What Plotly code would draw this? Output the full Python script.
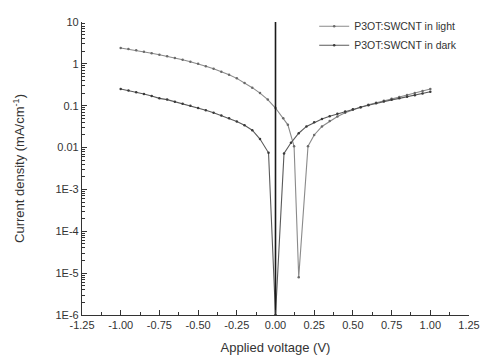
import plotly.graph_objects as go

# ---- data ----
light_x = [-1.00, -0.95, -0.90, -0.85, -0.80, -0.75, -0.70, -0.65, -0.60, -0.55,
           -0.50, -0.45, -0.40, -0.35, -0.30, -0.25, -0.20, -0.15, -0.10, -0.05,
           0.00, 0.05, 0.08, 0.12, 0.15, 0.21, 0.25, 0.30, 0.35, 0.40, 0.45,
           0.50, 0.55, 0.60, 0.65, 0.70, 0.75, 0.80, 0.85, 0.90, 0.95, 1.00]
light_y = [2.4, 2.25, 2.1, 1.95, 1.8, 1.65, 1.52, 1.38, 1.25, 1.12,
           1.0, 0.88, 0.76, 0.65, 0.55, 0.45, 0.35, 0.27, 0.20, 0.14,
           0.088, 0.05, 0.035, 0.0107, 8e-6, 0.0108, 0.02, 0.032, 0.043, 0.055, 0.068,
           0.08, 0.092, 0.105, 0.118, 0.132, 0.146, 0.162, 0.18, 0.20, 0.225, 0.25]

dark_x = [-1.00, -0.95, -0.90, -0.85, -0.80, -0.75, -0.70, -0.65, -0.60, -0.55,
          -0.50, -0.45, -0.40, -0.35, -0.30, -0.25, -0.20, -0.15, -0.10, -0.045,
          0.00, 0.055, 0.10, 0.15, 0.20, 0.25, 0.30, 0.35, 0.40, 0.45,
          0.50, 0.55, 0.60, 0.65, 0.70, 0.75, 0.80, 0.85, 0.90, 0.95, 1.00]
dark_y = [0.25, 0.23, 0.21, 0.19, 0.17, 0.15, 0.14, 0.125, 0.112, 0.10,
          0.088, 0.078, 0.068, 0.058, 0.05, 0.042, 0.034, 0.026, 0.016, 0.0075,
          1e-6, 0.0072, 0.013, 0.022, 0.032, 0.040, 0.048, 0.056, 0.064, 0.073,
          0.082, 0.092, 0.103, 0.115, 0.126, 0.138, 0.15, 0.163, 0.178, 0.195, 0.215]

vline_x = [0, 0]
vline_y = [10, 1e-6]

x_ticks = [-1.25, -1.0, -0.75, -0.5, -0.25, 0.0, 0.25, 0.5, 0.75, 1.0, 1.25]
x_ticktext = ["-1.25", "-1.00", "-0.75", "-0.50", "-0.25", "0.00", "0.25", "0.50", "0.75", "1.00", "1.25"]
y_ticks = [10, 1, 0.1, 0.01, 1e-3, 1e-4, 1e-5, 1e-6]
y_ticktext = ["10", "1", "0.1", "0.01", "1E-3", "1E-4", "1E-5", "1E-6"]

light_name = "P3OT:SWCNT in light"
dark_name = "P3OT:SWCNT in dark"

# ---- figure ----
fig = go.Figure()
fig.add_trace(go.Scatter(x=light_x, y=light_y, mode="lines+markers", name=light_name,
                         line=dict(color="#8a8a8a", width=1.1),
                         marker=dict(size=2.5, color="#6a6a6a")))
fig.add_trace(go.Scatter(x=dark_x, y=dark_y, mode="lines+markers", name=dark_name,
                         line=dict(color="#5a5a5a", width=1.1),
                         marker=dict(size=2.5, color="#3a3a3a")))
fig.add_trace(go.Scatter(x=vline_x, y=vline_y, mode="lines", showlegend=False,
                         line=dict(color="#1a1a1a", width=1.6)))

minor_y = [k * 10.0 ** e for e in range(-6, 1) for k in range(2, 10)]
minor_x = [v + 0.125 for v in x_ticks[:-1]]

fig.update_layout(
    width=483, height=360,
    margin=dict(l=82, r=14, t=20, b=45),
    paper_bgcolor="white", plot_bgcolor="white",
    font=dict(family="Liberation Sans, Arial, sans-serif", color="#333333", size=11),
    legend=dict(x=0.6, y=1.035, xanchor="left", yanchor="top",
                bgcolor="rgba(0,0,0,0)", font=dict(size=10.5),
                tracegroupgap=0, itemwidth=30),
    xaxis=dict(range=[-1.25, 1.25], tickvals=x_ticks, ticktext=x_ticktext,
               showline=True, linecolor="#333333", linewidth=1.2,
               ticks="inside", ticklen=5, tickcolor="#333333",
               showgrid=False, zeroline=False, automargin=False,
               minor=dict(tickvals=minor_x, ticks="inside", ticklen=3, tickcolor="#333333"),
               title=dict(text="Applied voltage (V)", font=dict(size=13), standoff=12)),
    yaxis=dict(type="log", range=[-6, 1], tickvals=y_ticks, ticktext=y_ticktext,
               showline=True, linecolor="#333333", linewidth=1.2,
               ticks="inside", ticklen=5, tickcolor="#333333",
               showgrid=False, zeroline=False, automargin=False,
               minor=dict(tickvals=minor_y, ticks="inside", ticklen=3, tickcolor="#333333"),
               title=dict(text="Current density (mA/cm<sup>-1</sup>)", font=dict(size=13), standoff=27)),
)

fig.write_html("out.html", config={"displayModeBar": False},
               post_script="document.body.style.margin='0';"
                           "document.body.style.overflow='hidden';"
                           "document.documentElement.style.overflow='hidden';")
